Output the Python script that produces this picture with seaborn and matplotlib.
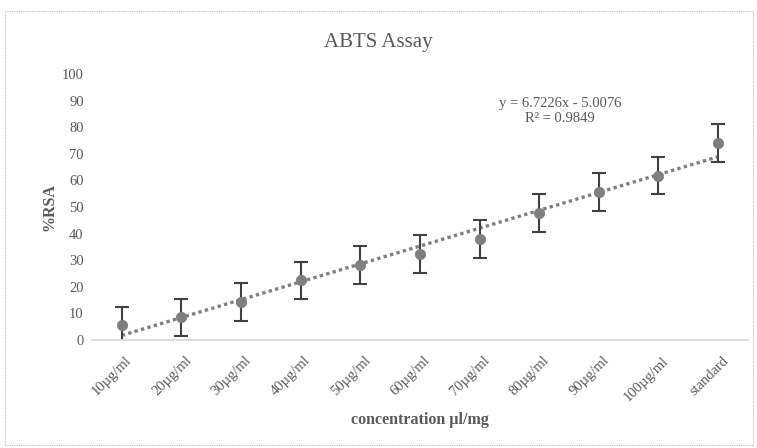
import numpy as np
import pandas as pd
import seaborn as sns
import matplotlib.pyplot as plt
from matplotlib.patches import Rectangle
from matplotlib.transforms import ScaledTranslation

# values
categories = ['10µg/ml', '20µg/ml', '30µg/ml', '40µg/ml', '50µg/ml', '60µg/ml',
              '70µg/ml', '80µg/ml', '90µg/ml', '100µg/ml', 'standard']
rsa = [5.6, 8.6, 14.3, 22.5, 28.2, 32.3, 38.0, 47.7, 55.6, 61.7, 74.0]
rsa_err = [7, 7, 7, 7, 7, 7, 7, 7, 7, 7, 7]
y_ticks = [0, 10, 20, 30, 40, 50, 60, 70, 80, 90, 100]

df = pd.DataFrame({'cat': categories, 'rsa': rsa, 'err': rsa_err})
df['pos'] = np.arange(1, len(df) + 1)

# linear trendline (excel style, x = 1..n)
slope, intercept = np.polyfit(df['pos'], df['rsa'], 1)
df['trend'] = slope * df['pos'] + intercept

sns.set_theme(style='white')
plt.rcParams['font.family'] = ['Liberation Serif', 'DejaVu Serif']

text_col = '#595959'
fig = plt.figure(figsize=(7.57, 4.48), dpi=100)
ax = fig.add_axes([0.1215, 0.241, 0.8665, 0.594])

sns.lineplot(data=df, x='pos', y='trend', ax=ax, color='#7f7f7f',
             linestyle=(0, (1, 1)), linewidth=2.4)
ax.errorbar(df['pos'], df['rsa'], yerr=df['err'], fmt='none',
            ecolor='#404040', elinewidth=1.5, capsize=5, capthick=1.5)
sns.scatterplot(data=df, x='pos', y='rsa', ax=ax, color='#7f7f7f', s=55,
                edgecolor='#7f7f7f', zorder=5)

ax.set_xlim(0.5, len(df) + 0.5)
ax.set_ylim(0, 100)
ax.set_yticks(y_ticks)
ax.set_yticklabels([str(v) for v in y_ticks], color=text_col, fontsize=10.5)
ax.set_xticks(df['pos'])
ax.set_xticklabels(categories, rotation=45, ha='right', rotation_mode='anchor',
                   color=text_col, fontsize=10.5)
ax.tick_params(axis='both', length=0, pad=6)
ax.tick_params(axis='x', pad=10)
# shift rotated labels a little to the right, like excel does
shift = ScaledTranslation(2.5 / 72, 0, fig.dpi_scale_trans)
for lbl in ax.get_xticklabels():
    lbl.set_transform(lbl.get_transform() + shift)

for s in ['top', 'right', 'left']:
    ax.spines[s].set_visible(False)
ax.spines['bottom'].set_color('#d9d9d9')
ax.spines['bottom'].set_linewidth(1.3)
ax.grid(False)

ax.set_xlabel('concentration µl/mg', fontsize=11.5, fontweight='bold',
              color=text_col, labelpad=6)
ax.set_ylabel('%RSA', fontsize=11.5, fontweight='bold', color=text_col,
              labelpad=3)

fig.text(0.5, 0.905, 'ABTS Assay', ha='center', va='center', fontsize=15,
         color=text_col)
fig.text(0.74, 0.752, 'y = %.4fx - %.4f\nR² = 0.9849' % (6.7226, 5.0076),
         ha='center', va='center', fontsize=10.5, color=text_col,
         linespacing=1.15)

fig.patches.append(Rectangle((0.007, 0.006), 0.988, 0.97, transform=fig.transFigure,
                             fill=False, edgecolor='#bfbfbf', linewidth=0.8,
                             linestyle=(0, (1, 1))))

fig.savefig('out.png', dpi=100)
